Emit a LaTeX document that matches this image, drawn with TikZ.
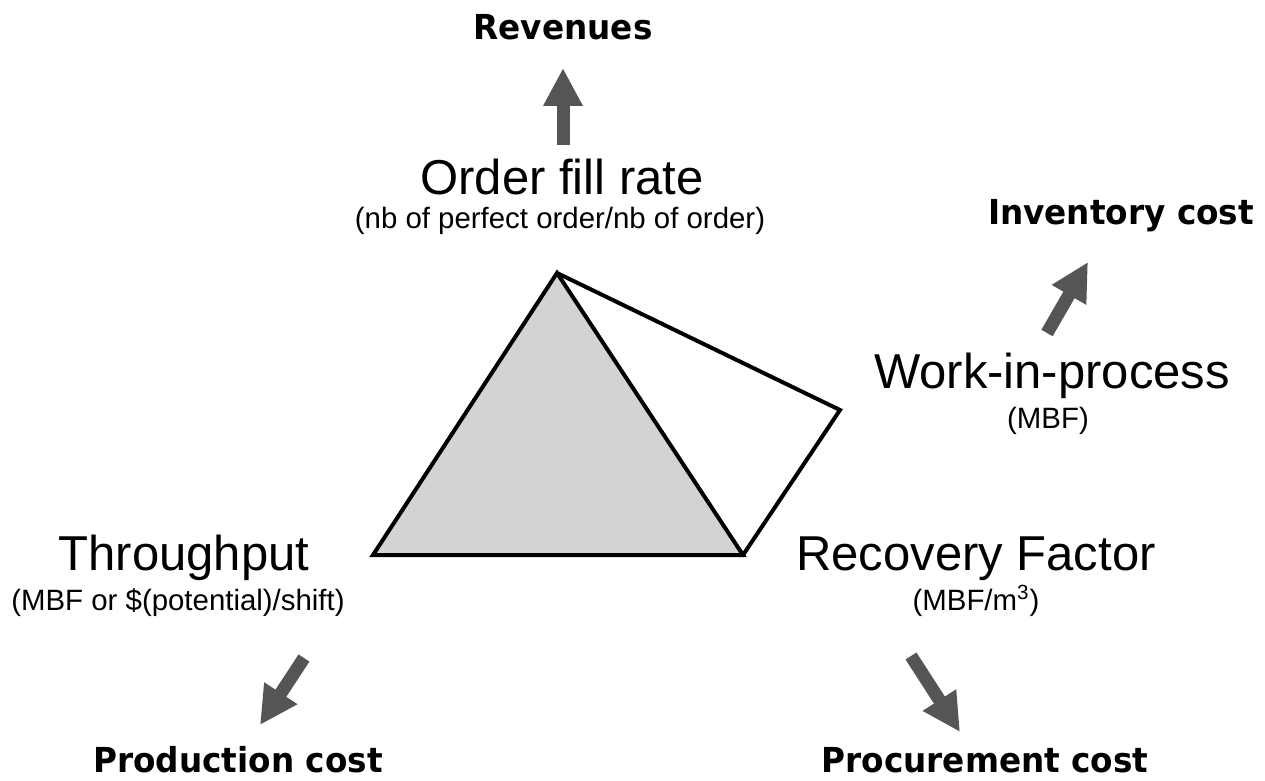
\documentclass[tikz,border=0pt]{standalone}
\usepackage{fontspec}
\setmainfont{Liberation Sans}
\newfontfamily\costfont{DejaVu Sans}[FakeStretch=0.95]
\usetikzlibrary{arrows.meta}

\definecolor{arrowgray}{RGB}{85,85,85}
\definecolor{facegray}{RGB}{211,211,211}

\tikzset{
  kpi/.style={font=\fontsize{24.5}{28}\selectfont, anchor=base, inner sep=0pt},
  unit/.style={font=\fontsize{14.7}{17}\selectfont, anchor=base, inner sep=0pt},
  cost/.style={font=\costfont\bfseries\fontsize{17.2}{20}\selectfont, anchor=base, inner sep=0pt},
  push/.style={draw=arrowgray, line width=6.5pt, -{Triangle[width=18.5pt,length=19pt]}},
}

\begin{document}
\begin{tikzpicture}[x=0.5pt,y=-0.5pt]
  \useasboundingbox (0,0) rectangle (1265,781);

  % the pyramid
  \coordinate (top) at (557,273);
  \coordinate (left) at (373,555);
  \coordinate (right) at (743,555);
  \coordinate (back) at (840,410);
  \draw[line width=2pt, fill=facegray] (top) -- (left) -- (right) -- cycle;
  \draw[line width=2pt] (top) -- (back) -- (right);

  % indicators
  \node[kpi] (fill) at (562,195) {Order fill rate};
  \node[unit] (fillunit) at (560,228) {(nb of perfect order/nb of order)};
  \node[kpi] (wip) at (1052,388) {Work-in-process};
  \node[unit] (wipunit) at (1048,428) {(MBF)};
  \node[kpi] (thru) at (184,570) {Throughput};
  \node[unit] (thruunit) at (178,610) {(MBF or \$(potential)/shift)};
  \node[kpi] (recov) at (976,570) {Recovery Factor};
  \node[unit] (recovunit) at (976,610) {(MBF/m\textsuperscript{3})};

  % costs
  \node[cost] (rev) at (563,40) {Revenues};
  \node[cost] (inv) at (1121,225) {Inventory cost};
  \node[cost] (prod) at (238,772) {Production cost};
  \node[cost] (proc) at (985,772) {Procurement cost};

  % arrows
  \coordinate (rev tail) at (563,145);
  \coordinate (rev tip) at (563,68);
  \coordinate (inv tail) at (1047,333);
  \coordinate (inv tip) at (1088,262);
  \coordinate (prod tail) at (304,658);
  \coordinate (prod tip) at (260,725);
  \coordinate (proc tail) at (911,656);
  \coordinate (proc tip) at (960,732);
  \foreach \a in {rev,inv,prod,proc}
    \draw[push] (\a\space tail) -- (\a\space tip);
\end{tikzpicture}
\end{document}
